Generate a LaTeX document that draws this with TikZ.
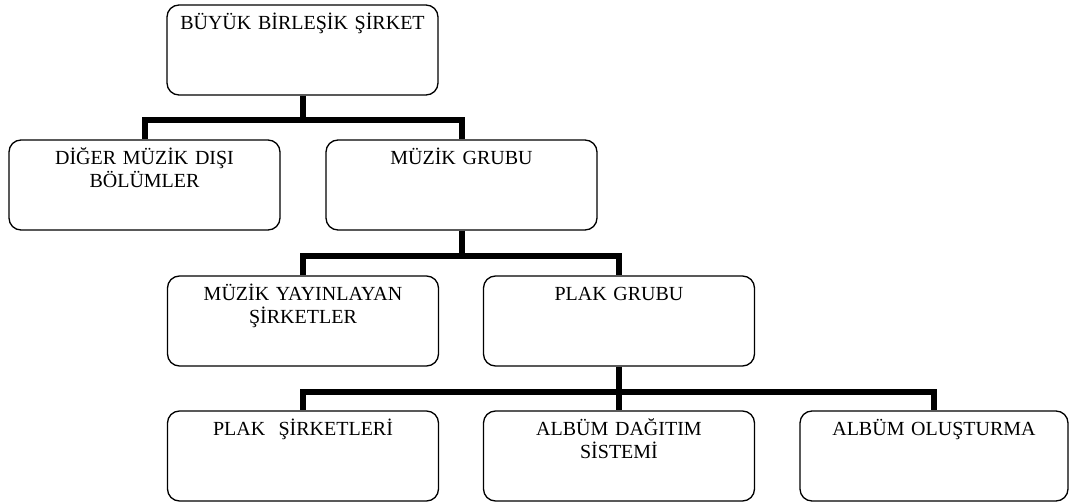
\documentclass[tikz,border=0pt]{standalone}
\usepackage{fontspec}
\setmainfont{Liberation Serif}
\begin{document}
\begin{tikzpicture}[x=1pt,y=-1pt,
  unit/.style={draw=black, line width=1.3pt, rounded corners=12pt,
    rectangle, inner sep=0pt, minimum width=271pt, minimum height=90pt},
  caption/.style={anchor=base, inner sep=0pt, text width=260pt, align=center,
    font=\fontsize{20}{23}\selectfont},
  link/.style={draw=black, line width=6pt, line join=miter}]
\useasboundingbox (0,0) rectangle (1071,502);

% organisation units
\node[unit] (corp) at (302.5,50) {};
\node[unit] (other) at (144.5,185) {};
\node[unit] (music) at (461.5,185) {};
\node[unit] (publish) at (303,321) {};
\node[unit] (records) at (619,321) {};
\node[unit] (labels) at (303,456) {};
\node[unit] (distrib) at (619,456) {};
\node[unit, minimum width=268pt] (create) at (934,456) {};

% unit titles
\node[caption] (corp-t) at ([yshift=-25pt]corp.north) {BÜYÜK BİRLEŞİK ŞİRKET};
\node[caption] (other-t) at ([yshift=-25pt]other.north) {DİĞER MÜZİK DIŞI\\BÖLÜMLER};
\node[caption] (music-t) at ([yshift=-25pt]music.north) {MÜZİK GRUBU};
\node[caption] (publish-t) at ([yshift=-25pt]publish.north) {MÜZİK YAYINLAYAN\\ŞİRKETLER};
\node[caption] (records-t) at ([yshift=-25pt]records.north) {PLAK GRUBU};
\node[caption] (labels-t) at ([yshift=-25pt]labels.north) {PLAK\ \ ŞİRKETLERİ};
\node[caption] (distrib-t) at ([yshift=-25pt]distrib.north) {ALBÜM DAĞITIM\\SİSTEMİ};
\node[caption] (create-t) at ([yshift=-25pt]create.north) {ALBÜM OLUŞTURMA};

% hierarchy links
\coordinate (bus1) at ([yshift=-24pt]corp.south);
\coordinate (bus2) at ([yshift=-25pt]music.south);
\coordinate (bus3) at ([yshift=-25pt]records.south);
\draw[link] (corp.south) -- (bus1) -| (other.north);
\draw[link] (bus1) -| (music.north);
\draw[link] (music.south) -- (bus2) -| (publish.north);
\draw[link] (bus2) -| (records.north);
\draw[link] (records.south) -- (distrib.north);
\draw[link] (bus3) -| (labels.north);
\draw[link] (bus3) -| (create.north);
\end{tikzpicture}
\end{document}
